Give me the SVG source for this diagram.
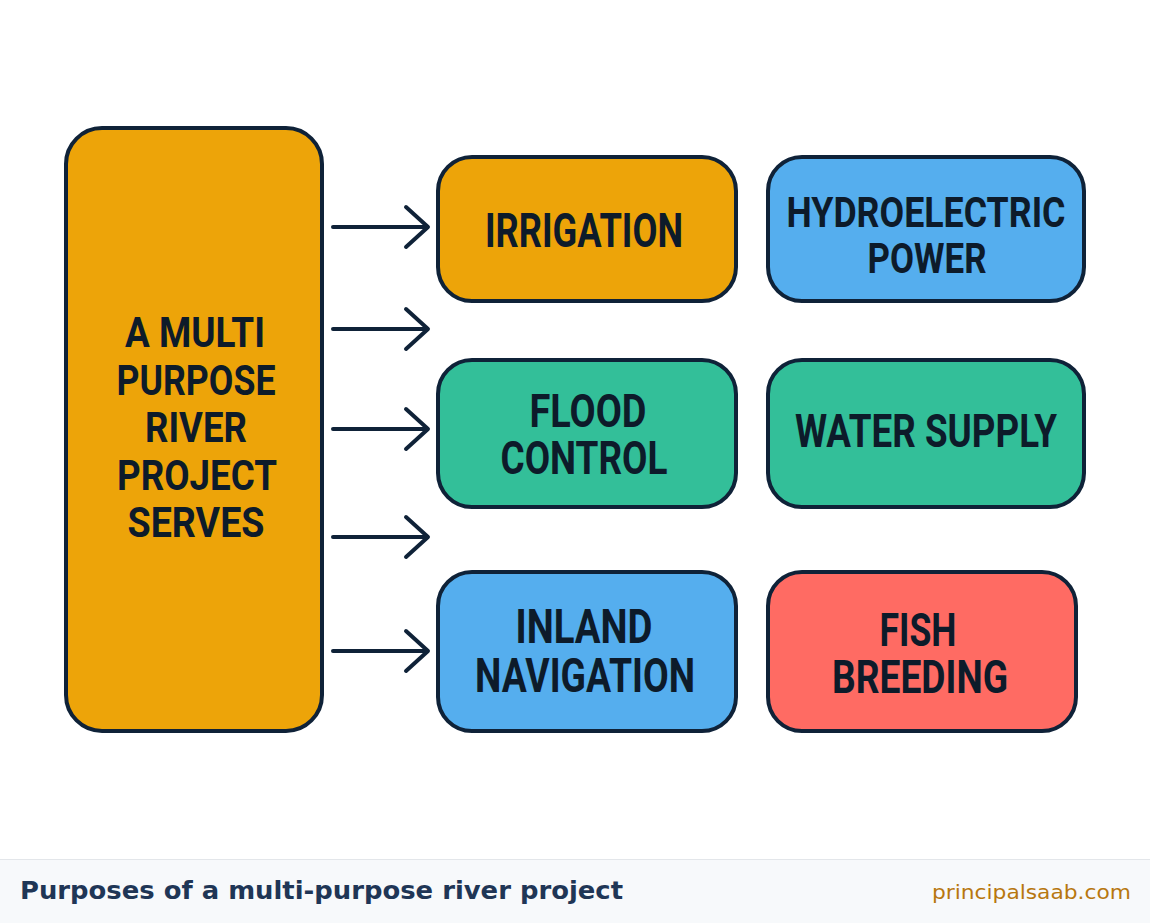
<svg xmlns="http://www.w3.org/2000/svg" width="1150" height="923" viewBox="0 0 1150 923">
<defs>
<style>
.box{stroke:#0f2238;stroke-width:4}
.lbl{font-family:Roboto,"Liberation Sans",sans-serif;font-weight:700;fill:#0d1b2a;text-anchor:middle}
.arr{fill:none;stroke:#0f2238;stroke-width:4;stroke-linecap:round;stroke-linejoin:round}
</style>
</defs>
<rect width="1150" height="923" fill="#ffffff"/>
<g id="main">
<rect class="box" x="66" y="128" width="256" height="603" rx="36" fill="#eda409"/>
<text class="lbl" font-size="42"><tspan x="195" y="347" textLength="140" lengthAdjust="spacingAndGlyphs">A MULTI</tspan><tspan x="196" y="395" textLength="159" lengthAdjust="spacingAndGlyphs">PURPOSE</tspan><tspan x="196" y="442" textLength="102" lengthAdjust="spacingAndGlyphs">RIVER</tspan><tspan x="197" y="490" textLength="160" lengthAdjust="spacingAndGlyphs">PROJECT</tspan><tspan x="196" y="537" textLength="137" lengthAdjust="spacingAndGlyphs">SERVES</tspan></text>
</g>
<g id="connectors">
<path class="arr" d="M333 227H427M406 207L428 227L406 247"/>
<path class="arr" d="M333 329H427M406 309L428 329L406 349"/>
<path class="arr" d="M333 429H427M406 409L428 429L406 449"/>
<path class="arr" d="M333 537H427M406 517L428 537L406 557"/>
<path class="arr" d="M333 651H427M406 631L428 651L406 671"/>
</g>
<g id="irrigation">
<rect class="box" x="438" y="157" width="298" height="144" rx="34" fill="#eda409"/>
<text class="lbl" font-size="48" x="584" y="247" textLength="198" lengthAdjust="spacingAndGlyphs">IRRIGATION</text>
</g>
<g id="hydroelectric">
<rect class="box" x="768" y="157" width="316" height="144" rx="34" fill="#55aeee"/>
<text class="lbl" font-size="43"><tspan x="926" y="227" textLength="279" lengthAdjust="spacingAndGlyphs">HYDROELECTRIC</tspan><tspan x="927" y="273" textLength="119" lengthAdjust="spacingAndGlyphs">POWER</tspan></text>
</g>
<g id="flood">
<rect class="box" x="438" y="360" width="298" height="147" rx="34" fill="#33bf99"/>
<text class="lbl" font-size="46"><tspan x="588" y="427" textLength="117" lengthAdjust="spacingAndGlyphs">FLOOD</tspan><tspan x="584" y="474" textLength="167" lengthAdjust="spacingAndGlyphs">CONTROL</tspan></text>
</g>
<g id="water">
<rect class="box" x="768" y="360" width="316" height="147" rx="34" fill="#33bf99"/>
<text class="lbl" font-size="46" x="926" y="447" textLength="262" lengthAdjust="spacingAndGlyphs">WATER SUPPLY</text>
</g>
<g id="inland">
<rect class="box" x="438" y="572" width="298" height="159" rx="34" fill="#55aeee"/>
<text class="lbl" font-size="48"><tspan x="584" y="643" textLength="137" lengthAdjust="spacingAndGlyphs">INLAND</tspan><tspan x="585" y="692" textLength="220" lengthAdjust="spacingAndGlyphs">NAVIGATION</tspan></text>
</g>
<g id="fish">
<rect class="box" x="768" y="572" width="308" height="159" rx="34" fill="#ff6b63"/>
<text class="lbl" font-size="46"><tspan x="918" y="646" textLength="77" lengthAdjust="spacingAndGlyphs">FISH</tspan><tspan x="920" y="693" textLength="176" lengthAdjust="spacingAndGlyphs">BREEDING</tspan></text>
</g>
<g id="footer">
<rect x="0" y="859" width="1150" height="64" fill="#f7f9fb"/>
<line x1="0" y1="859.5" x2="1150" y2="859.5" stroke="#e3e6ea" stroke-width="1"/>
<text x="20" y="899" font-family="DejaVu Sans,sans-serif" font-weight="700" font-size="25" fill="#1f3656" textLength="603" lengthAdjust="spacingAndGlyphs">Purposes of a multi-purpose river project</text>
<text x="932" y="899" font-family="DejaVu Sans,sans-serif" font-size="20" fill="#b7770f" textLength="199" lengthAdjust="spacingAndGlyphs">principalsaab.com</text>
</g>
</svg>
